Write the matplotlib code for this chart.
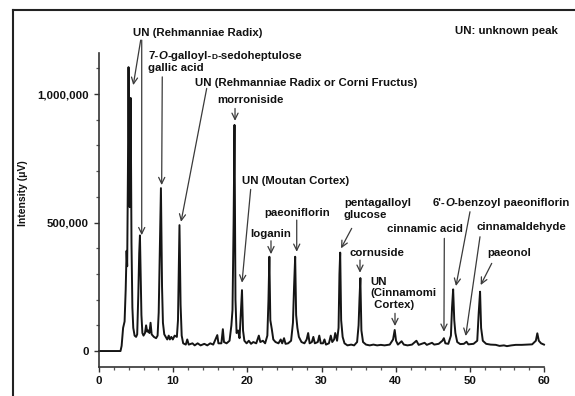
"""HPLC chromatogram with annotated peaks."""

import matplotlib
matplotlib.use("Agg")

import matplotlib.pyplot as plt
from matplotlib.lines import Line2D
from matplotlib.ticker import MultipleLocator, FuncFormatter
from matplotlib.offsetbox import TextArea, HPacker, AnnotationBbox

plt.rcParams["font.family"] = ["Liberation Sans", "DejaVu Sans"]
plt.rcParams["font.weight"] = "bold"

# Trace: retention time (min) and signal (uV)
trace_time = [
    0.0, 2.9, 3.05, 3.25, 3.45, 3.6, 3.72, 3.8, 3.9, 3.98, 4.08, 4.15, 4.27,
    4.38, 4.5, 4.62, 4.8, 5.0, 5.15, 5.3, 5.42, 5.52, 5.62, 5.72, 5.85, 6.0,
    6.2, 6.35, 6.5, 6.65, 6.8, 6.95, 7.1, 7.4, 7.7, 7.9, 8.05, 8.2, 8.35, 8.5,
    8.62, 8.8, 9.0, 9.2, 9.4, 9.55, 9.75, 9.95, 10.2, 10.5, 10.65, 10.85, 11.0,
    11.15, 11.35, 11.7, 11.9, 12.1, 12.6, 12.9, 13.3, 13.7, 14.2, 14.6, 15.0,
    15.4, 15.7, 15.95, 16.1, 16.5, 16.7, 16.85, 17.2, 17.6, 17.85, 18.0, 18.15,
    18.27, 18.4, 18.55, 18.75, 18.95, 19.15, 19.28, 19.42, 19.6, 19.9, 20.2,
    20.5, 20.8, 21.2, 21.55, 21.75, 22.1, 22.4, 22.7, 22.85, 22.97, 23.1, 23.3,
    23.5, 23.8, 24.2, 24.5, 24.7, 24.95, 25.15, 25.5, 25.9, 26.15, 26.3, 26.45,
    26.58, 26.75, 26.95, 27.3, 27.7, 28.0, 28.2, 28.4, 28.7, 28.9, 29.1, 29.5,
    29.7, 29.9, 30.2, 30.4, 30.6, 31.0, 31.25, 31.45, 31.7, 31.85, 32.1, 32.3,
    32.42, 32.52, 32.65, 32.85, 33.1, 33.5, 34.0, 34.4, 34.8, 35.0, 35.12,
    35.24, 35.38, 35.6, 36.0, 36.5, 37.0, 37.5, 38.0, 38.5, 39.2, 39.65, 39.87,
    40.05, 40.3, 40.8, 41.1, 41.6, 42.2, 42.8, 43.1, 43.9, 44.2, 44.9, 45.2,
    45.8, 46.3, 46.5, 46.7, 47.1, 47.45, 47.6, 47.75, 47.9, 48.05, 48.3, 48.7,
    49.2, 49.55, 49.8, 50.5, 51.0, 51.2, 51.38, 51.52, 51.75, 52.2, 52.8, 53.5,
    54.0, 54.6, 55.0, 55.6, 56.2, 57.0, 57.6, 58.4, 58.9, 59.1, 59.3, 59.6,
    60.0,
]
trace_signal = [
    0, 0, 20000, 90000, 115000, 240000, 390000, 330000, 700000, 1105000,
    620000, 560000, 985000, 420000, 170000, 90000, 60000, 55000, 65000, 220000,
    380000, 450000, 300000, 140000, 70000, 60000, 70000, 100000, 75000, 80000,
    70000, 110000, 65000, 55000, 50000, 60000, 150000, 400000, 634000, 250000,
    110000, 65000, 55000, 45000, 60000, 45000, 55000, 45000, 60000, 55000,
    120000, 490000, 180000, 60000, 30000, 25000, 45000, 25000, 30000, 22000,
    30000, 22000, 28000, 22000, 30000, 25000, 45000, 62000, 30000, 30000,
    85000, 35000, 30000, 40000, 100000, 160000, 500000, 880000, 200000, 70000,
    80000, 50000, 160000, 237000, 80000, 40000, 30000, 40000, 28000, 35000,
    30000, 60000, 35000, 40000, 30000, 60000, 200000, 367000, 120000, 85000,
    45000, 35000, 30000, 45000, 30000, 50000, 28000, 30000, 40000, 110000,
    250000, 367000, 140000, 90000, 55000, 35000, 30000, 45000, 70000, 30000,
    35000, 55000, 30000, 35000, 60000, 30000, 30000, 45000, 25000, 30000,
    60000, 35000, 45000, 70000, 40000, 90000, 300000, 383000, 120000, 55000,
    30000, 22000, 25000, 22000, 35000, 100000, 200000, 284000, 80000, 35000,
    25000, 22000, 25000, 22000, 24000, 22000, 25000, 45000, 82000, 40000,
    25000, 38000, 25000, 22000, 25000, 40000, 24000, 32000, 24000, 32000,
    25000, 28000, 40000, 50000, 30000, 28000, 60000, 170000, 240000, 120000,
    70000, 35000, 27000, 28000, 36000, 26000, 28000, 40000, 150000, 231000,
    90000, 40000, 28000, 25000, 24000, 20000, 22000, 19000, 22000, 24000,
    24000, 25000, 26000, 40000, 69000, 40000, 30000, 25000,
]

y_ticks = [0, 500000, 1000000]
x_ticks = [0, 10, 20, 30, 40, 50, 60]

# Label layout: (text, left x, centre y) in data units
labels = [
    ("UN (Rehmanniae Radix)", 4.58, 1237000),
    ("gallic acid", 6.61, 1101000),
    ("UN (Rehmanniae Radix or Corni Fructus)", 12.94, 1043000),
    ("morroniside", 15.91, 976600),
    ("UN (Moutan Cortex)", 19.28, 661500),
    ("paeoniflorin", 22.29, 535800),
    ("loganin", 20.45, 454100),
    ("pentagalloyl\nglucose", 33.03, 552500),
    ("cornuside", 33.75, 380100),
    ("UN\n(Cinnamomi\n Cortex)", 36.63, 224500),
    ("cinnamic acid", 38.87, 473500),
    ("cinnamaldehyde", 50.92, 483700),
    ("paeonol", 52.35, 382500),
    ("UN: unknown peak", 48.0, 1245000),
]

# Arrows: (tail x, tail y, tip x, tip y)
arrows = [
    (5.62, 1210000, 4.62, 1035000),
    (5.76, 1210000, 5.76, 451000),
    (8.53, 1067000, 8.45, 646000),
    (14.52, 1022000, 11.06, 503000),
    (18.34, 944000, 18.34, 896000),
    (20.45, 629000, 19.28, 266000),
    (23.19, 429000, 23.19, 377000),
    (26.66, 509700, 26.66, 386400),
    (34.07, 477400, 32.63, 399600),
    (35.19, 354000, 35.19, 304700),
    (39.91, 146700, 39.91, 97300),
    (46.56, 438500, 46.51, 75100),
    (50.02, 542000, 48.13, 253000),
    (51.37, 444700, 49.44, 58400),
    (52.95, 341200, 51.46, 256800),
]

FS = 8.2
TXT = "#111111"


def rich_label(ax, parts, x, y):
    """Place a one-line label built from (text, style, size) pieces."""
    boxes = [
        TextArea(t, textprops=dict(fontsize=s, fontstyle=st,
                                   fontweight="bold", color=TXT))
        for t, st, s in parts
    ]
    pack = HPacker(children=boxes, align="baseline", pad=0, sep=0)
    ab = AnnotationBbox(pack, (x, y), xycoords="data", box_alignment=(0, 0.5),
                        frameon=False, pad=0, annotation_clip=False)
    ax.add_artist(ab)


fig = plt.figure(figsize=(5.75, 3.96), dpi=100)
ax = fig.add_axes([99 / 575, 1 - 366.7 / 396, 445 / 575, 313.7 / 396])

ax.plot(trace_time, trace_signal, color="#151515", lw=1.4, clip_on=False)

ax.set_xlim(0, 60)
ax.set_ylim(-61000, 1160000)
ax.set_xticks(x_ticks)
ax.set_yticks(y_ticks)
ax.xaxis.set_minor_locator(MultipleLocator(2))
ax.yaxis.set_minor_locator(MultipleLocator(100000))
ax.yaxis.set_major_formatter(FuncFormatter(lambda v, p: f"{int(v):,}"))

for side in ("top", "right"):
    ax.spines[side].set_visible(False)
for side in ("left", "bottom"):
    ax.spines[side].set_color("#333333")
    ax.spines[side].set_linewidth(1.2)

ax.tick_params(which="major", direction="out", length=3.5, width=1,
               color="#333333", labelsize=FS, labelcolor=TXT)
ax.tick_params(which="minor", direction="out", length=2.2, width=0.9,
               color="#555555")
ax.tick_params(axis="x", pad=3)
ax.tick_params(axis="y", pad=4)

for t, x, y in labels:
    ax.text(x, y, t, fontsize=FS, fontweight="bold", color=TXT,
            ha="left", va="center", linespacing=1.22, clip_on=False)

rich_label(ax, [("7-", "normal", FS), ("O", "italic", FS), ("-galloyl-", "normal", FS),
                ("D", "normal", 6), ("-sedoheptulose", "normal", FS)],
           6.61, 1148000)
rich_label(ax, [("6'-", "normal", FS), ("O", "italic", FS),
                ("-benzoyl paeoniflorin", "normal", FS)],
           44.99, 577000)

for x0, y0, x1, y1 in arrows:
    ax.annotate("", xy=(x1, y1), xytext=(x0, y0), annotation_clip=False,
                arrowprops=dict(arrowstyle="->,head_length=0.45,head_width=0.22",
                                color="#3a3a3a", lw=0.9, shrinkA=0, shrinkB=0))

fig.text(23 / 575, 1 - 193 / 396, "Intensity (\u03bcV)", rotation=90,
         fontsize=7.5, fontweight="bold", color=TXT, ha="center", va="center")

# Outer frame on the left and top
fig.add_artist(Line2D([13 / 575, 13 / 575], [0, 1 - 10 / 396],
                      transform=fig.transFigure, color="#222222", lw=1.5))
fig.add_artist(Line2D([13 / 575, 1], [1 - 10 / 396, 1 - 10 / 396],
                      transform=fig.transFigure, color="#222222", lw=1.5))

fig.savefig("out.png", dpi=100)
